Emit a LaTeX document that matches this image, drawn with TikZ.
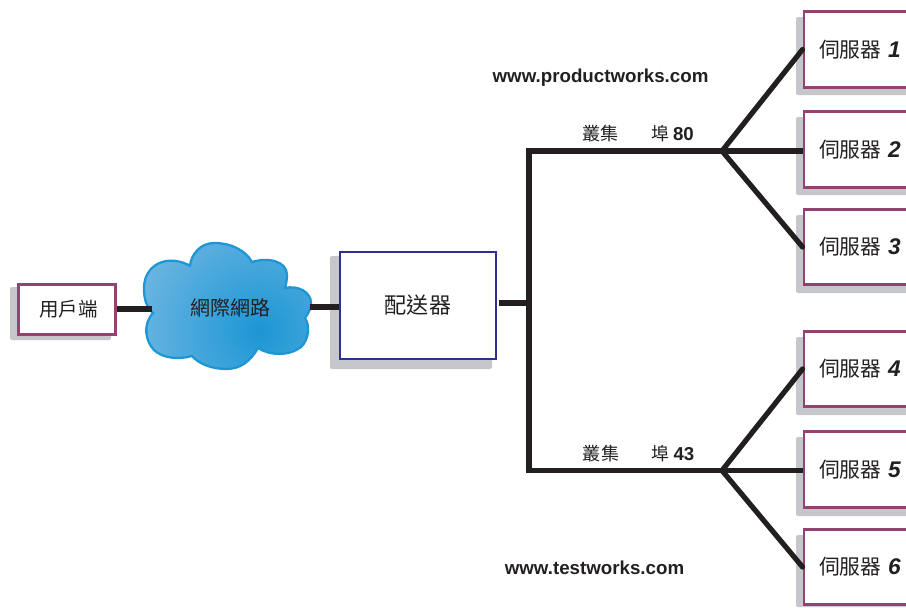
\documentclass[tikz,border=0pt]{standalone}
\usepackage{fontspec}
\setmainfont{Liberation Sans}
\newfontfamily\cjk{Noto Sans CJK TC}
\definecolor{srv}{HTML}{934372}
\definecolor{dsp}{HTML}{2E3192}
\definecolor{shd}{HTML}{C6C7CA}
\definecolor{ink}{HTML}{231F20}
\definecolor{cloudline}{HTML}{1C96D4}
\definecolor{cloudpale}{HTML}{B8D3EE}
\newcommand{\cjksize}[1]{\fontsize{#1}{#1}\selectfont}
\tikzset{
 x=0.75pt,y=-0.75pt,
 boxbase/.style={draw,fill=white,inner sep=0pt,text=ink,font=\cjk},
 server/.style={boxbase,draw=srv,line width=2.2pt,minimum width=84pt,minimum height=56.5pt,font=\cjk\cjksize{15.6}},
 client/.style={boxbase,draw=srv,line width=2.2pt,minimum width=73pt,minimum height=37pt,font=\cjk\cjksize{14.6}},
 dispatcher/.style={boxbase,draw=dsp,line width=1.6pt,minimum width=117.5pt,minimum height=80.5pt,font=\cjk\cjksize{16.6}},
 shadowbox/.style={fill=shd,rounded corners=1.5pt},
 wire/.style={draw=ink,line width=3.9pt},
 url/.style={font=\bfseries\fontsize{14.05}{14.05}\selectfont,text=ink,inner sep=0pt},
 cn/.style={font=\cjk\cjksize{13.6},text=ink,inner sep=0pt},
 port/.style={font=\cjk\cjksize{13.4},text=ink,inner sep=0pt},
 cloudtext/.style={font=\cjk\cjksize{15},text=ink,inner sep=0pt},
}
\newcommand{\srvnum}[1]{{\fontspec{Liberation Sans}\fontsize{17}{17}\selectfont\bfseries\itshape #1}}
\newcommand{\portnum}[1]{{\fontspec{Liberation Sans}\fontsize{14}{14}\selectfont\bfseries #1}}
\begin{document}
\begin{tikzpicture}
\useasboundingbox (0,0) rectangle (906,607);
\clip (0,0) rectangle (906,607);
% shadows
\fill[shadowbox] (10,287) rectangle (111,340);
\fill[shadowbox] (330,256) rectangle (492,369);
\foreach \t/\b in {17/95,117/195,215/293,337/415,437/516,535/607}{
  \fill[shadowbox] (796,\t) rectangle (930,\b);
}
% cloud
\def\cloudpath{(190,265.7) .. controls (191,255) and (200,243) .. (214,243)
 .. controls (232,243) and (246,251) .. (252,262)
 .. controls (268,257) and (287,261) .. (287,275)
 .. controls (287,280) and (286,285) .. (285,288)
 .. controls (298,285) and (311,292) .. (311,303)
 .. controls (311,309) and (308,314) .. (305,318)
 .. controls (310,325) and (309,340) .. (301,347)
 .. controls (290,356) and (270,356) .. (258,348)
 .. controls (250,362) and (240,369) .. (226,369)
 .. controls (212,369) and (199,364) .. (192,356)
 .. controls (178,360) and (162,358) .. (154,350)
 .. controls (146,342) and (142,325) .. (153,313)
 .. controls (143,305) and (143,288) .. (145,280)
 .. controls (150,262) and (170,255) .. (190,265.7) -- cycle}
\begin{scope}
  \clip \cloudpath;
  \shade[inner color=cloudline,outer color=cloudpale] (260,330) circle (250);
\end{scope}
\draw[cloudline,line width=1.7pt] \cloudpath;
% nodes
\node[client] (client) at (67,309.5) {};
\node[font=\cjk\cjksize{14.6},text=ink,inner sep=0pt] (clienttext) at (68.5,309.5) {用戶端};
\node[cloudtext] (net) at (230,308) {網際網路};
\node[dispatcher] (disp) at (418,305.5) {配送器};
\node[server] (s1) at (860,49.5) {伺服器\hspace{5pt}\srvnum{1}};
\node[server] (s2) at (860,149.5) {伺服器\hspace{5pt}\srvnum{2}};
\node[server] (s3) at (860,247) {伺服器\hspace{5pt}\srvnum{3}};
\node[server] (s4) at (860,369) {伺服器\hspace{5pt}\srvnum{4}};
\node[server] (s5) at (860,469.5) {伺服器\hspace{5pt}\srvnum{5}};
\node[server] (s6) at (860,567) {伺服器\hspace{5pt}\srvnum{6}};
\node[url] (u1) at (600.5,77.5) {www.productworks.com};
\node[url] (u2) at (594.5,568) {www.testworks.com};
\node[cn] (c1) at (600.5,134) {叢集};
\node[cn] (c2) at (601,454) {叢集};
\node[port] (p1) at (672.5,134) {埠 \portnum{80}};
\node[port] (p2) at (673,453.5) {埠 \portnum{43}};
% connector points
\coordinate (cloudW) at (152,309);
\coordinate (cloudE) at (310,307);
\coordinate (dispOut) at (499,303);
\coordinate (busM) at (529,303);
\coordinate (busT) at (529,151);
\coordinate (busB) at (529,470.5);
\coordinate (fanT) at (722,151);
\coordinate (fanB) at (722,470.5);
% connectors
\draw[wire] (client.east |- cloudW) -- (cloudW);
\draw[wire] (cloudE) -- (cloudE -| disp.west);
\draw[wire] (dispOut) -- (busM);
\draw[wire] (fanT) -- (busT) -- (busB) -- (fanB);
\draw[wire,line cap=round] (fanT) -- (s1.west);
\draw[wire] (fanT) -- (fanT -| s2.west);
\draw[wire,line cap=round] (fanT) -- (s3.west);
\draw[wire,line cap=round] (fanB) -- (s4.west);
\draw[wire] (fanB) -- (fanB -| s5.west);
\draw[wire,line cap=round] (fanB) -- (s6.west);
\end{tikzpicture}
\end{document}
